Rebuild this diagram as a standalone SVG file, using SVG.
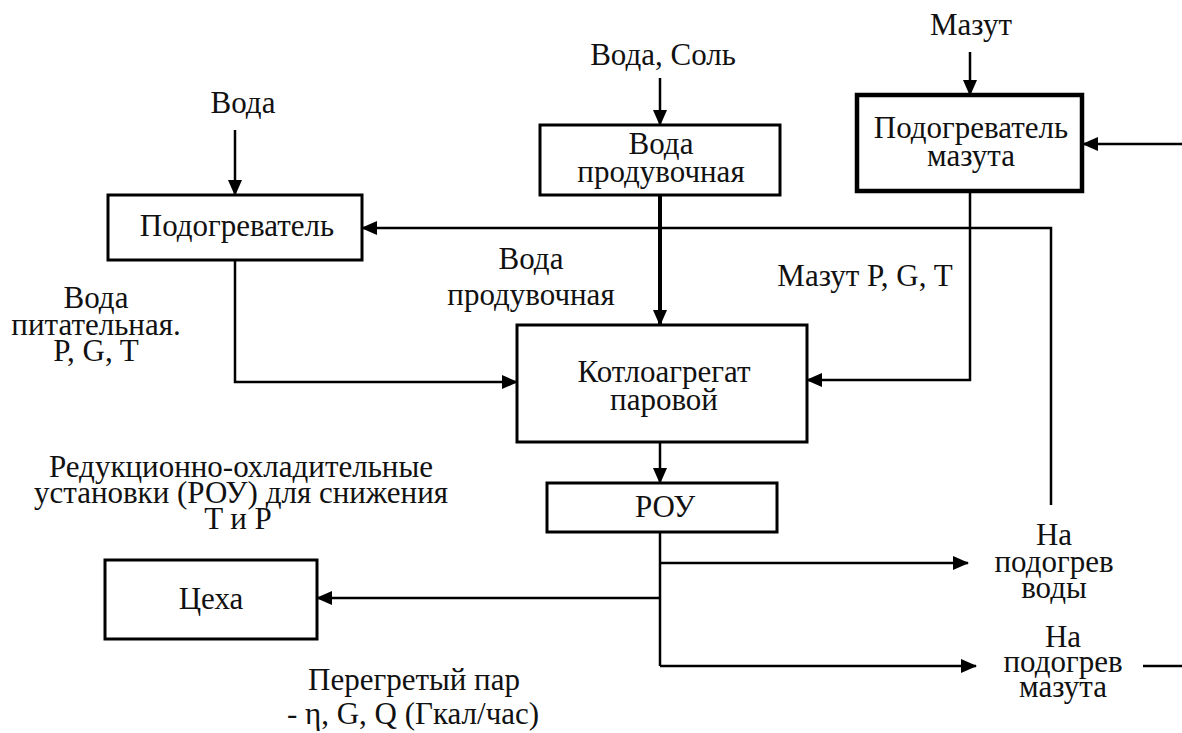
<svg xmlns="http://www.w3.org/2000/svg" width="1182" height="733" viewBox="0 0 1182 733">
<style>
.box{fill:#fff;stroke:#000;stroke-width:3}
.thick{stroke-width:4.5}
.ln{fill:none;stroke:#000;stroke-width:2.5}
.arr{marker-end:url(#ah)}
text{font-family:"Liberation Serif";font-size:31px;fill:#111;text-anchor:middle}
</style>
<defs>
<marker id="ah" markerUnits="userSpaceOnUse" markerWidth="16" markerHeight="14" refX="15" refY="7" orient="auto">
<path d="M0,0 L16,7 L0,14 Z" fill="#000"/>
</marker>
</defs>
<rect width="1182" height="733" fill="#fff"/>
<g id="connectors">
<path class="ln arr" d="M235,130 V195"/>
<path class="ln arr" d="M660,78 V125"/>
<path class="ln arr" d="M970,52 V95"/>
<path class="ln arr" d="M660,195 V325" style="stroke-width:4"/>
<path class="ln arr" d="M235,260 V382 H517"/>
<path class="ln arr" d="M970,192 V380 H807"/>
<path class="ln arr" d="M660,442 V483"/>
<path class="ln" d="M660,532 V666"/>
<path class="ln arr" d="M660,563 H968"/>
<path class="ln arr" d="M660,598 H317"/>
<path class="ln arr" d="M660,666 H976"/>
<path class="ln arr" d="M1051,505 V228 H362"/>
<path class="ln" d="M1143,666 H1182"/>
<path class="ln arr" d="M1182,144 H1083"/>
</g>
<g id="n-heater"><rect class="box" x="108" y="195" width="254" height="65"/><text x="237" y="236">Подогреватель</text></g>
<g id="n-blowdown"><rect class="box" x="540" y="125" width="240" height="70"/><text x="661" y="154">Вода<tspan x="661" dy="28">продувочная</tspan></text></g>
<g id="n-fuelheater"><rect class="box thick" x="857" y="95" width="225" height="96"/><text x="971" y="138">Подогреватель<tspan x="971" dy="28">мазута</tspan></text></g>
<g id="n-boiler"><rect class="box" x="517" y="325" width="290" height="117"/><text x="664" y="382">Котлоагрегат<tspan x="664" dy="28">паровой</tspan></text></g>
<g id="n-rou"><rect class="box" x="547" y="483" width="230" height="49"/><text x="665" y="517">РОУ</text></g>
<g id="n-shops"><rect class="box" x="105" y="560" width="212" height="79"/><text x="211" y="609">Цеха</text></g>
<g id="n-labels">
<text x="243" y="113">Вода</text>
<text x="663" y="65">Вода, Соль</text>
<text x="971" y="35">Мазут</text>
<text x="531" y="269">Вода<tspan x="531" dy="36">продувочная</tspan></text>
<text x="865" y="286">Мазут P, G, T</text>
<text x="96" y="308">Вода<tspan x="96" dy="27">питательная.</tspan><tspan x="96" dy="26">P, G, T</tspan></text>
<text x="241" y="477">Редукционно-охладительные<tspan x="241" dy="26">установки (РОУ) для снижения</tspan><tspan x="238" dy="26">T и P</tspan></text>
<text x="1054" y="545">На<tspan x="1054" dy="27">подогрев</tspan><tspan x="1054" dy="26">воды</tspan></text>
<text x="1063" y="647">На<tspan x="1063" dy="25">подогрев</tspan><tspan x="1063" dy="25">мазута</tspan></text>
<text x="414" y="690">Перегретый пар<tspan x="413" dy="34">- η, G, Q (Гкал/час)</tspan></text>
</g>
</svg>
